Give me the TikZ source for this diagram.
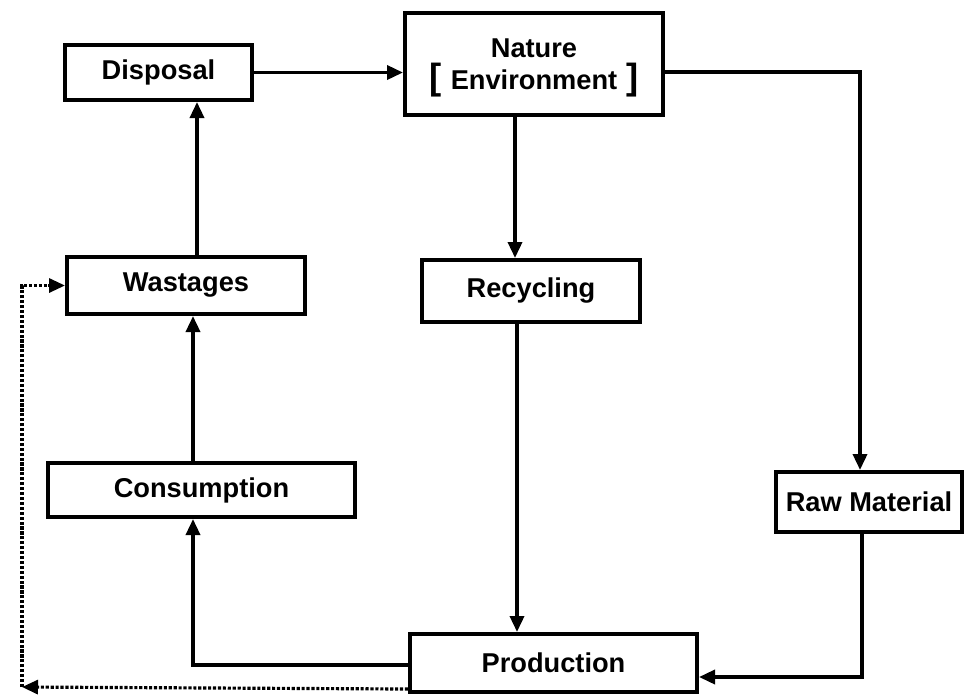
\documentclass[tikz,border=0pt]{standalone}
\usepackage{fontspec}
\setmainfont{Liberation Sans}
\usetikzlibrary{arrows.meta}

\begin{document}
\begin{tikzpicture}[x=0.02cm, y=-0.02cm,
		box/.style={draw, line width=2.3pt, inner sep=0pt, align=center, font=\fontsize{15.5}{19}\selectfont\bfseries},
		flow/.style={line width=2pt, -{Triangle[length=3.2mm,width=2.8mm]}},
		back/.style={line width=1.8pt, densely dotted, -{Triangle[length=3.2mm,width=2.8mm]}}]
			%%%%% START %%%%%
			
			\useasboundingbox (0, 0) rectangle (966, 698);
			
			\node[box, minimum width=3.74cm, minimum height=1.1cm] (disposal) at (158.5, 72.5) {Disposal};
			\node[box, minimum width=5.16cm, minimum height=2.04cm, text depth=-0.3cm] (nature) at (534, 64) {Nature\\[-1pt]{\huge[}\,\,Environment\,\,{\huge]}};
			\node[box, minimum width=4.76cm, minimum height=1.14cm] (wastages) at (186, 285.5) {Wastages};
			\node[box, minimum width=4.36cm, minimum height=1.24cm] (recycling) at (531, 291) {Recycling};
			\node[box, minimum width=6.14cm, minimum height=1.08cm] (consumption) at (201.5, 490) {Consumption};
			\node[box, minimum width=3.72cm, minimum height=1.2cm] (raw) at (869, 502) {Raw Material};
			\node[box, minimum width=5.74cm, minimum height=1.16cm] (production) at (553.5, 663) {Production};
			
			\coordinate (corner) at (22, 687);
			
			% main cycle
			\draw[flow] (disposal.east) -- (disposal.east -| nature.west);
			\draw[flow] ([yshift=-0.16cm]nature.east) -| ([xshift=-0.18cm]raw.north);
			\draw[flow] ([xshift=-0.38cm]nature.south) -- ([xshift=-0.38cm]nature.south |- recycling.north);
			\draw[flow] ([xshift=-0.28cm]recycling.south) -- ([xshift=-0.28cm]recycling.south |- production.north);
			\draw[flow] ([xshift=-0.14cm]raw.south) |- ([yshift=-0.28cm]production.east);
			\draw[flow] ([yshift=-0.04cm]production.west) -| ([xshift=-0.17cm]consumption.south);
			\draw[flow] ([xshift=-0.17cm]consumption.north) -- ([xshift=-0.17cm]consumption.north |- wastages.south);
			\draw[flow] ([xshift=0.22cm]wastages.north) -- ([xshift=0.22cm]wastages.north |- disposal.south);
			
			% feedback
			\draw[back] ([yshift=0.1cm]production.south west) -- (corner);
			\draw[back] (corner) |- (wastages.west);
			
			%%%%% END %%%%%
\end{tikzpicture}
\end{document}
